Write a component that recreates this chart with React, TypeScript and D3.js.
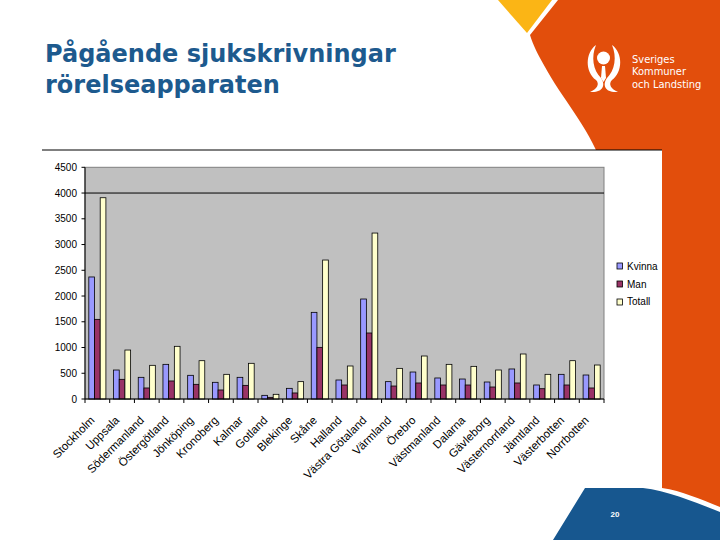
import React from "react";
import * as d3 from "d3";

const categories = ["Stockholm","Uppsala","Södermanland","Östergötland","Jönköping","Kronoberg","Kalmar","Gotland","Blekinge","Skåne","Halland","Västra Götaland","Värmland","Örebro","Västmanland","Dalarna","Gävleborg","Västernorrland","Jämtland","Västerbotten","Norrbotten"];
const kvinna = [2370,563,421,673,460,324,421,71,207,1683,369,1942,337,524,408,388,330,583,272,479,466];
const man = [1547,382,214,350,285,175,265,32,117,1003,272,1282,252,311,272,272,233,311,200,272,214];
const totall = [3909,951,654,1023,744,479,693,91,337,2699,641,3223,595,835,673,634,563,874,479,744,660];
const seriesNames = ["Kvinna","Man","Totall"];
const seriesColors = ["#9999FF","#993366","#FFFFCC"];
const yTicks = [0,500,1000,1500,2000,2500,3000,3500,4000,4500];
const titleLines = ["Pågående sjukskrivningar","rörelseapparaten"];
const logoLines = ["Sveriges","Kommuner","och Landsting"];

export default function App() {
  const seriesValues = [kvinna, man, totall];
  const left = 85, right = 604, top = 167.3, bottom = 399;
  const x0 = d3.scaleBand<string>().domain(categories).range([left, right]).paddingInner(0).paddingOuter(0);
  const x1 = d3.scaleBand<string>().domain(seriesNames).range([0, x0.bandwidth()]).paddingInner(0).paddingOuter(0.67);
  const y = d3.scaleLinear().domain([0, 4500]).range([bottom, top]);
  const chartFont = "'Liberation Sans', Arial, sans-serif";

  return (
    <svg width={720} height={540} style={{ position: "absolute", left: 0, top: 0 }} xmlns="http://www.w3.org/2000/svg">
      <rect x={0} y={0} width={720} height={540} fill="#ffffff" />
      {/* decorative shapes */}
      <path d="M498,0 L552,0 L527,33 Z" fill="#FBB515" />
      <path d="M558,0 L720,0 L720,507 C700,499 682,491 662,488 L615,488 L600,160 C590,130 560,95 545,67 C538,55 533,45 530,35 Z" fill="#E24E0C" />
      <path d="M585,488 L643,488 C668,491 695,502 720,512 L720,540 L553,540 Z" fill="#17578F" />
      <text x={615} y={517} fill="#ffffff" fontSize={8} fontWeight="bold" fontFamily={chartFont} textAnchor="middle">20</text>
      {/* logo icon */}
      <g fill="#ffffff">
        <circle cx={603.5} cy={58} r={6.5} />
        <path d="M596,45 C585,53 585,72 596,80 C600,84 597,89 590,92 C603,93 606,85 601,78 C593,70 591,57 596,45 Z" />
        <path d="M612,45 C623,53 623,72 612,80 C608,84 611,89 618,92 C605,93 602,85 607,78 C615,70 617,57 612,45 Z" />
        <path d="M602,66 L605,66 L606,78 L603.5,82 L601,78 Z" />
      </g>
      {logoLines.map((t, i) => (
        <text key={t} x={632} y={63 + i * 12.3} fill="#ffffff" fontSize={11} fontFamily="'Liberation Sans Narrow', 'DejaVu Sans Condensed', 'Arial Narrow', sans-serif">{t}</text>
      ))}
      {/* title */}
      {titleLines.map((t, i) => (
        <text key={t} x={45} y={62 + i * 31} fill="#1D5A8E" fontSize={24} fontWeight="bold" fontFamily="'DejaVu Sans', Verdana, sans-serif">{t}</text>
      ))}
      {/* chart box */}
      <rect x={38} y={150} width={624} height={338} fill="#ffffff" />
      <line x1={42} x2={662} y1={150} y2={150} stroke="#000" strokeWidth={1} />
      {/* plot area */}
      <rect x={left} y={top} width={right - left} height={bottom - top} fill="#C0C0C0" stroke="#808080" strokeWidth={1} />
      <line x1={left} x2={right} y1={y(4000)} y2={y(4000)} stroke="#000" strokeWidth={1} />
      {/* bars */}
      {categories.map((c, ci) => (
        <g key={c} transform={`translate(${x0(c)},0)`}>
          {seriesNames.map((s, si) => (
            <rect key={s} x={x1(s)} y={y(seriesValues[si][ci])} width={x1.bandwidth()} height={bottom - y(seriesValues[si][ci])} fill={seriesColors[si]} stroke="#000" strokeWidth={0.8} />
          ))}
        </g>
      ))}
      {/* axes */}
      <line x1={left} x2={left} y1={top} y2={bottom} stroke="#000" strokeWidth={1} />
      <line x1={left} x2={right} y1={bottom} y2={bottom} stroke="#000" strokeWidth={1} />
      {yTicks.map(v => (
        <g key={v}>
          <line x1={left - 3.5} x2={left} y1={y(v)} y2={y(v)} stroke="#000" />
          <text x={77} y={y(v)} dy="0.35em" textAnchor="end" fontSize={10} fontFamily={chartFont} fill="#000">{v}</text>
        </g>
      ))}
      {categories.map(c => (
        <line key={c + "t"} x1={x0(c)! + x0.bandwidth()} x2={x0(c)! + x0.bandwidth()} y1={bottom} y2={bottom + 4} stroke="#000" />
      ))}
      <line x1={left} x2={left} y1={bottom} y2={bottom + 4} stroke="#000" />
      {categories.map(c => {
        const cx = x0(c)! + x0.bandwidth() / 2;
        return (
          <text key={c + "l"} transform={`translate(${cx - 2},${421}) rotate(-45)`} textAnchor="end" fontSize={11.5} fontFamily={chartFont} fill="#000">{c}</text>
        );
      })}
      {/* legend */}
      {seriesNames.map((s, i) => (
        <g key={s}>
          <rect x={617} y={263 + i * 18} width={5.5} height={6} fill={seriesColors[i]} stroke="#000" strokeWidth={0.8} />
          <text x={627} y={270 + i * 17.7} fontSize={10} fontFamily={chartFont} fill="#000">{s}</text>
        </g>
      ))}
    </svg>
  );
}
